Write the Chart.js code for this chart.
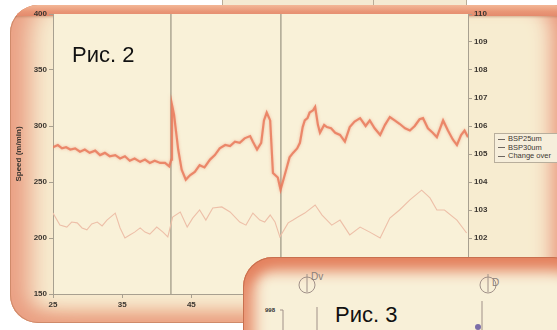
<!DOCTYPE html>
<html><head><meta charset="utf-8">
<script src="https://cdn.jsdelivr.net/npm/chart.js@4.4.1/dist/chart.umd.min.js"></script>
<style>
html,body{margin:0;padding:0;background:#fff;}
#wrap{position:relative;width:557px;height:330px;overflow:hidden;background:#fff;font-family:"Liberation Sans",Arial,sans-serif;}
#top{position:absolute;left:222px;top:-6px;width:243px;height:10px;background:#f4ead2;border:1px solid #b9ad98;}
#top i{position:absolute;left:150px;top:0;width:1px;height:10px;background:#b9ad98;}
#p2{position:absolute;left:10px;top:5px;width:572px;height:318px;border-radius:28px;overflow:hidden;background:#f7ecd0;
 box-shadow: inset 0 0 0 1px #cf8a6a, inset 28px 0 24px -8px #eaa084, inset 0 -18px 18px -6px #eba383, inset -38px 0 20px -8px #e9957a;}
#band{position:absolute;left:0;top:0;width:100%;height:11px;background:linear-gradient(#f3b797,#e99676 60%,#e48b6d);box-shadow:0 1px 2px rgba(150,80,50,0.35);}
canvas#c{position:absolute;left:0;top:0;}
#lbl2{position:absolute;left:72px;top:42px;font-size:22px;color:#111;}
#legend{position:absolute;left:494px;top:133px;width:80px;height:27px;border:1px solid #b8ae9c;background:#f6eedb;font-size:7.5px;line-height:8.5px;color:#3d3833;padding-top:1px;}
#legend div{white-space:nowrap;}
#legend span{display:inline-block;width:7px;height:0;border-top:1px solid;vertical-align:middle;margin:0 3px 0 3px;}
#p3{position:absolute;left:243px;top:257px;width:340px;height:110px;border-radius:30px;overflow:hidden;background:#f8f0d8;
 box-shadow: inset 0 0 0 1px #c8704f, inset 0 18px 14px -4px #e4825f, inset 16px 0 14px -4px #e99878;}
#lbl3{position:absolute;left:92px;top:45px;font-size:22px;color:#111;}
#p3 svg{position:absolute;left:0;top:0;}
</style></head>
<body><div id="wrap">
<div id="top"><i></i></div>
<div id="p2"><div id="band"></div></div>
<canvas id="c" width="557" height="330"></canvas>
<div id="lbl2">Рис. 2</div>
<div id="legend"></div>
<div id="p3">
<svg width="340" height="110">
 <g stroke="#a09088" fill="none" stroke-width="1">
  <circle cx="64" cy="28" r="8"/><line x1="64" y1="17" x2="64" y2="35"/>
  <circle cx="245" cy="28" r="8"/><line x1="245" y1="17" x2="245" y2="35"/>
  <line x1="40" y1="53" x2="40" y2="80"/><line x1="37" y1="53" x2="40" y2="53"/>
  <line x1="74" y1="50" x2="74" y2="80"/>
  <line x1="239" y1="44" x2="239" y2="80"/>
 </g>
 <text x="68" y="23" font-size="10" fill="#8a7f7a" font-family="Liberation Sans">Dv</text>
 <text x="249" y="29" font-size="10" fill="#8a7f7a" font-family="Liberation Sans">D</text>
 <text x="22" y="55" font-size="6" font-weight="bold" fill="#333" font-family="Liberation Sans">998</text>
 <circle cx="235" cy="70" r="3" fill="#7c6ea8"/>
</svg>
<div id="lbl3">Рис. 3</div>
</div>
</div>
<script>
// ---- data ----
const seriesNames = ['BSP25um', 'BSP30um', 'Change over'];
const yTitle = 'Speed (m/min)';
const timeRed = [25.0,25.7,26.3,26.9,27.5,28.2,28.9,29.6,30.3,31.1,31.8,32.5,33.2,34.0,34.7,35.4,36.1,36.8,37.6,38.3,39.0,39.7,40.5,41.2,41.8,42.1,42.2,42.5,43.1,43.6,44.2,44.8,45.5,46.2,46.9,47.7,48.4,49.1,49.9,50.6,51.3,52.0,52.7,53.5,53.9,54.5,55.1,55.5,55.9,56.4,56.8,57.5,57.9,58.4,58.8,59.2,59.7,60.3,60.7,61.1,61.4,61.8,62.1,62.6,62.9,63.3,63.6,64.2,64.6,65.2,65.8,66.5,67.2,67.9,68.6,69.4,70.2,70.8,71.5,72.3,73.0,73.7,74.4,75.1,75.9,76.6,77.3,78.0,78.5,79.2,79.9,80.5,81.4,82.1,82.8,83.4,84.0,84.5,85.0];
const bsp25 = [281,283,280,281,279,280,277,279,276,278,274,276,273,274,271,273,269,271,268,270,267,269,267,267,264,270,319,310,279,261,252,256,259,265,263,270,274,280,283,282,286,285,289,291,286,279,285,305,312,305,258,254,243,254,263,272,276,280,285,299,305,307,312,314,317,301,294,301,299,298,294,292,286,299,304,307,300,305,298,292,301,308,305,302,298,296,300,306,307,298,294,290,305,296,288,283,292,296,290];
const timePink = [25.0,26.0,27.0,27.7,28.5,29.2,29.9,30.6,31.4,32.1,32.8,34.0,34.7,35.4,36.1,36.8,37.6,38.3,39.0,40.0,40.9,41.6,42.3,43.4,44.4,45.2,46.2,47.1,48.1,49.4,50.6,52.0,52.9,53.9,54.9,55.6,56.4,57.1,57.8,59.0,59.7,60.4,61.4,62.9,63.9,65.3,66.5,67.9,69.4,70.8,72.3,73.7,75.1,76.6,78.3,79.5,80.5,81.6,83.4,84.8];
const bsp30 = [102.89,102.46,102.39,102.57,102.54,102.36,102.29,102.5,102.57,102.43,102.64,102.89,102.36,102.0,102.11,102.21,102.36,102.21,102.14,102.39,102.21,102.04,102.75,102.93,102.39,102.71,103.0,102.64,103.07,103.11,102.93,102.57,102.46,102.89,102.64,102.57,102.82,102.57,102.04,102.54,102.64,102.75,102.89,103.18,102.82,102.46,102.64,102.11,102.39,102.21,102.0,102.71,103.0,103.36,103.71,103.43,103.0,103.0,102.64,102.18];
const changeOver = [42.05, 57.95];
const xRange = [25, 85, 10];      // min, max, step
const leftRange = [150, 400, 50];
const rightRange = [100, 110, 1];

// ---- build ----
const changeData = [];
changeOver.forEach((t, i) => {
  if (i > 0) changeData.push({x: t, y: null});
  changeData.push({x: t, y: leftRange[0]}, {x: t, y: leftRange[1]});
});
const colors = ['rgba(233,122,92,0.85)', '#edbfa8', '#9b9482'];

const tickFont = {family: "'Liberation Sans', Arial, sans-serif", size: 8, weight: 'bold'};
const gridOpt = {display: true, drawOnChartArea: false, drawTicks: true, tickLength: 4, color: '#a8a090'};
const borderOpt = {display: true, color: '#a8a090', width: 1};

const bgPlugin = {
  id: 'bg',
  beforeDraw(chart) {
    const a = chart.chartArea, c = chart.ctx;
    c.save(); c.fillStyle = '#f9f1d8'; c.fillRect(a.left, a.top, a.right - a.left, a.bottom - a.top); c.restore();
  },
  beforeDatasetDraw(chart, args) {
    if (args.index === 0) { chart.ctx.save(); chart.ctx.shadowColor = 'rgba(235,130,100,0.6)'; chart.ctx.shadowBlur = 3; }
  },
  afterDatasetDraw(chart, args) {
    if (args.index === 0) chart.ctx.restore();
  }
};

new Chart(document.getElementById('c'), {
  type: 'line',
  data: {datasets: [
    {label: seriesNames[0], data: timeRed.map((t, i) => ({x: t, y: bsp25[i]})), yAxisID: 'y', borderColor: colors[0], borderWidth: 2.2, pointRadius: 0, tension: 0},
    {label: seriesNames[1], data: timePink.map((t, i) => ({x: t, y: bsp30[i]})), yAxisID: 'y1', borderColor: colors[1], borderWidth: 1.1, pointRadius: 0, tension: 0},
    {label: seriesNames[2], data: changeData, yAxisID: 'y', borderColor: colors[2], borderWidth: 1.2, pointRadius: 0, spanGaps: false}
  ]},
  options: {
    responsive: false, animation: false,
    layout: {padding: {left: 14, top: 14, right: 0, bottom: 0}},
    plugins: {legend: {display: false}, tooltip: {enabled: false}},
    scales: {
      x: {type: 'linear', min: xRange[0], max: xRange[1], ticks: {stepSize: xRange[2], font: tickFont, color: '#3b3630', padding: 2, maxRotation: 0},
          grid: gridOpt, border: borderOpt, afterFit(s) { s.height = 36; }},
      y: {position: 'left', min: leftRange[0], max: leftRange[1], ticks: {stepSize: leftRange[2], font: tickFont, color: '#3b3630', padding: 2},
          title: {display: true, text: yTitle, font: {family: "'Liberation Sans', Arial", size: 8, weight: 'bold'}, color: '#3b3630', padding: 0},
          grid: gridOpt, border: borderOpt, afterFit(s) { s.width = 39; }},
      y1: {position: 'right', min: rightRange[0], max: rightRange[1], ticks: {stepSize: rightRange[2], font: tickFont, color: '#3b3630', padding: 2},
          grid: gridOpt, border: borderOpt, afterFit(s) { s.width = 89; }}
    }
  },
  plugins: [bgPlugin]
});

const lg = document.getElementById('legend');
seriesNames.forEach((n, i) => {
  const d = document.createElement('div');
  const s = document.createElement('span'); s.style.borderColor = '#6d6660';
  d.appendChild(s); d.appendChild(document.createTextNode(n)); lg.appendChild(d);
});
</script>
</body></html>
